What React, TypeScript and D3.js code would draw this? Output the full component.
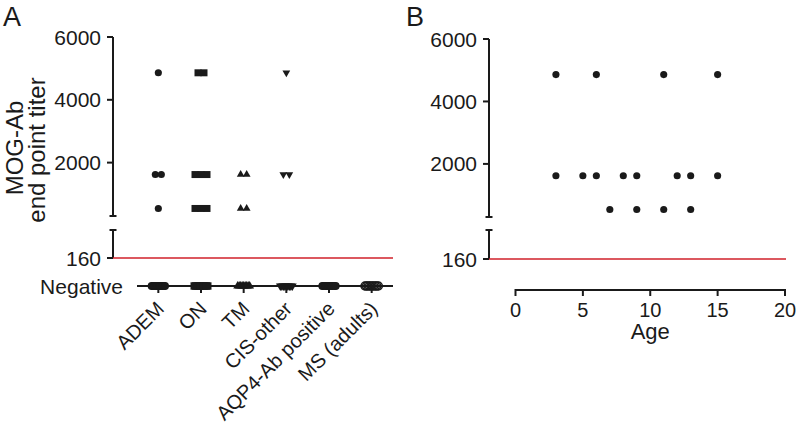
import React from 'react';
import * as d3 from 'd3';

// groups in panel A
const categories = ['ADEM', 'ON', 'TM', 'CIS-other', 'AQP4-Ab positive', 'MS (adults)'];
const yTicks = [2000, 4000, 6000];

// positive end point titers per group
const ademTiters = [4860, 1620, 1620, 540];
const onTiters = [4860, 4860, 1620, 1620, 1620, 540, 540, 540];
const tmTiters = [1620, 1620, 540, 540];
const cisTiters = [4860, 1620, 1620];
const aqp4Titers: number[] = [];
const msTiters: number[] = [];
// number of negative samples per group (estimated from the blob widths)
const negativeCounts = [10, 10, 9, 9, 10, 10];

// panel B: age vs titer
const ages = [3, 6, 11, 15, 3, 5, 6, 8, 9, 12, 13, 15, 7, 9, 11, 13];
const ageTiters = [4860, 4860, 4860, 4860, 1620, 1620, 1620, 1620, 1620, 1620, 1620, 1620, 540, 540, 540, 540];
const ageTicks = [0, 5, 10, 15, 20];

const groupTiters = [ademTiters, onTiters, tmTiters, cisTiters, aqp4Titers, msTiters];
const shapes = ['circle', 'square', 'triangle', 'down', 'circle', 'open'];

const FONT = 'Liberation Sans, Arial, Helvetica, sans-serif';
const INK = '#1a1a1a';
const RED = '#d0202a';

function markerPath(shape: string, big: boolean) {
    if (shape === 'square') return d3.symbol().type(d3.symbolSquare).size(big ? 56 : 49)();
    if (shape === 'triangle' || shape === 'down') return d3.symbol().type(d3.symbolTriangle).size(big ? 34 : 26)();
    return d3.symbol().type(d3.symbolCircle).size(big ? 48 : 40)();
}

function Marker({ x, y, shape, big = false }: { x: number; y: number; shape: string; big?: boolean }) {
    const rot = shape === 'down' ? ' rotate(180)' : '';
    const open = shape === 'open';
    return (
        <path
            d={markerPath(shape, big) || ''}
            transform={`translate(${x},${y})${rot}`}
            fill={open ? 'none' : INK}
            stroke={open ? INK : 'none'}
            strokeWidth={open ? 1.5 : 0}
        />
    );
}

// spread n points around a centre
function dodge(n: number, step: number) {
    return d3.range(n).map(i => (i - (n - 1) / 2) * step);
}

function BrokenYAxis({ x, upper, lower }: { x: number; upper: d3.ScaleLinear<number, number>; lower: d3.ScaleLinear<number, number> }) {
    const [u0, u1] = upper.range();
    const [l0, l1] = lower.range();
    return (
        <g stroke={INK} strokeWidth={2} fill="none">
            <line x1={x} x2={x} y1={u1} y2={u0} />
            <line x1={x - 3.5} x2={x + 3.5} y1={u0} y2={u0} />
            <line x1={x} x2={x} y1={l1} y2={l0} />
            <line x1={x - 3.5} x2={x + 3.5} y1={l1} y2={l1} />
            {yTicks.map(t => (
                <line key={t} x1={x - 6} x2={x} y1={upper(t)} y2={upper(t)} />
            ))}
            <line x1={x - 6} x2={x} y1={lower(160)} y2={lower(160)} />
            <g stroke="none" fill={INK} fontSize={21} textAnchor="end" fontFamily={FONT}>
                {yTicks.map(t => (
                    <text key={t} x={x - 12} y={upper(t)} dy="0.36em">{t}</text>
                ))}
                <text x={x - 12} y={lower(160)} dy="0.36em">160</text>
            </g>
        </g>
    );
}

function PanelA() {
    const axisX = 113;
    const upper = d3.scaleLinear().domain([300, 6000]).range([216, 37]);
    const lower = d3.scaleLinear().domain([160, 300]).range([258, 230]);
    const negY = 286;
    const x = d3.scaleBand().domain(categories).range([137, 393]).padding(0);
    const cx = (c: string) => (x(c) || 0) + x.bandwidth() / 2;

    return (
        <g>
            <text x={3} y={26} fontSize={27} fontFamily={FONT} fill={INK}>A</text>
            <g fontSize={24} fontFamily={FONT} fill={INK} textAnchor="middle">
                <text transform="translate(23,148) rotate(-90)">MOG-Ab</text>
                <text transform="translate(45,150) rotate(-90)">end point titer</text>
            </g>
            <BrokenYAxis x={axisX} upper={upper} lower={lower} />
            <line x1={axisX} x2={393} y1={lower(160)} y2={lower(160)} stroke={RED} strokeWidth={1.6} />

            {/* negative row */}
            <text x={123} y={negY} dy="0.36em" fontSize={21} fontFamily={FONT} fill={INK} textAnchor="end">Negative</text>
            <line x1={137} x2={393} y1={negY} y2={negY} stroke={INK} strokeWidth={2} />
            {categories.map(c => (
                <line key={c} x1={cx(c)} x2={cx(c)} y1={negY} y2={negY + 7} stroke={INK} strokeWidth={2} />
            ))}
            {categories.map((c, i) =>
                dodge(negativeCounts[i], 1.5).map((off, j) => (
                    <Marker key={c + 'n' + j} x={cx(c) + off} y={negY} shape={shapes[i]} big />
                ))
            )}

            {/* positive titers */}
            {categories.map((c, i) => {
                const levels = Array.from(new Set(groupTiters[i]));
                return levels.map(v => {
                    const n = groupTiters[i].filter(t => t === v).length;
                    return dodge(n, 6).map((off, j) => (
                        <Marker key={c + v + j} x={cx(c) + off} y={upper(v)} shape={shapes[i]} />
                    ));
                });
            })}

            <g fontSize={20} fontFamily={FONT} fill={INK} textAnchor="end">
                {categories.map(c => (
                    <text key={c} transform={`translate(${cx(c) + 7},310) rotate(-45)`}>{c}</text>
                ))}
            </g>
        </g>
    );
}

function PanelB() {
    const axisX = 489;
    const upper = d3.scaleLinear().domain([300, 6000]).range([217, 39]);
    const lower = d3.scaleLinear().domain([160, 300]).range([259, 230]);
    const x = d3.scaleLinear().domain([0, 20]).range([515.5, 785]);
    const xAxisY = 290;

    return (
        <g>
            <text x={406} y={26} fontSize={27} fontFamily={FONT} fill={INK}>B</text>
            <BrokenYAxis x={axisX} upper={upper} lower={lower} />
            <line x1={axisX} x2={786} y1={lower(160)} y2={lower(160)} stroke={RED} strokeWidth={1.6} />

            <g stroke={INK} strokeWidth={2}>
                <line x1={x(0)} x2={x(20)} y1={xAxisY} y2={xAxisY} />
                {ageTicks.map(t => (
                    <line key={t} x1={x(t)} x2={x(t)} y1={xAxisY - 1} y2={xAxisY + 6} />
                ))}
            </g>
            <g fontSize={20} fontFamily={FONT} fill={INK} textAnchor="middle">
                {ageTicks.map(t => (
                    <text key={t} x={x(t)} y={317}>{t}</text>
                ))}
            </g>
            <text x={x(10)} y={339} fontSize={22} fontFamily={FONT} fill={INK} textAnchor="middle">Age</text>

            {ages.map((a, i) => (
                <Marker key={i} x={x(a)} y={upper(ageTiters[i])} shape="circle" />
            ))}
        </g>
    );
}

export default function App() {
    return (
        <div style={{ position: 'absolute', left: 0, top: 0 }}>
            <svg width={797} height={426} style={{ display: 'block', background: '#fff' }}>
                <PanelA />
                <PanelB />
            </svg>
        </div>
    );
}
